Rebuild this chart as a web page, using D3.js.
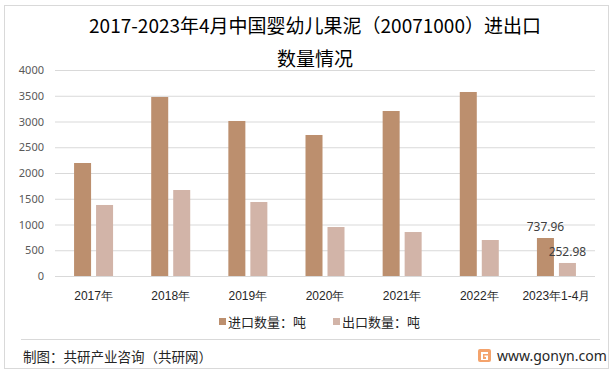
<!DOCTYPE html>
<html>
<head>
<meta charset="utf-8">
<script src="https://cdn.jsdelivr.net/npm/d3@7"></script>
<style>
  body { margin: 0; background: #fff; }
  svg { display: block; font-family: "Noto Sans CJK SC", "Noto Sans", sans-serif; }
</style>
</head>
<body>
<svg id="chart" width="614" height="376"></svg>
<script>
var categories = ["2017年", "2018年", "2019年", "2020年", "2021年", "2022年", "2023年1-4月"];
var importVals = [2194, 3476, 3010, 2738, 3204, 3573, 737.96];
var exportVals = [1379, 1670, 1437, 951, 854, 699, 252.98];
var seriesNames = ["进口数量：吨", "出口数量：吨"];
var yTicks = [0, 500, 1000, 1500, 2000, 2500, 3000, 3500, 4000];
var colors = ["#bc8f6e", "#d2b4a8"];

var svg = d3.select("#chart");

// outer border
svg.append("rect").attr("x", 4.5).attr("y", 5.5).attr("width", 604).attr("height", 363)
  .attr("fill", "none").attr("stroke", "#d9d9d9");

// title
var title = svg.append("text").attr("text-anchor", "middle").attr("fill", "#000")
  .attr("font-size", 19);
title.append("tspan").attr("x", 315).attr("y", 33).text("2017-2023年4月中国婴幼儿果泥（20071000）进出口");
title.append("tspan").attr("x", 315).attr("y", 66).text("数量情况");

var x0 = d3.scaleBand().domain(categories).range([55, 595]);
var x1 = d3.scaleBand().domain([0, 1])
  .range([(x0.bandwidth() - 39) / 2, (x0.bandwidth() + 39) / 2])
  .paddingInner(0.227);
var y = d3.scaleLinear().domain([0, 4000]).range([276, 70]);

// grid + y axis
var yAxis = svg.append("g").attr("transform", "translate(55,0)")
  .call(d3.axisLeft(y).tickValues(yTicks).tickFormat(d3.format("d")).tickSize(-540).tickPadding(11));
yAxis.select(".domain").remove();
yAxis.selectAll(".tick line").attr("stroke", "#d9d9d9");
yAxis.selectAll(".tick text").attr("fill", "#595959").attr("font-size", 11)
  .attr("font-family", "'Noto Sans', sans-serif");

// bars
var rows = categories.map(function (c, i) { return { cat: c, vals: [importVals[i], exportVals[i]] }; });
var groups = svg.append("g").selectAll("g").data(rows).enter().append("g")
  .attr("transform", function (d) { return "translate(" + x0(d.cat) + ",0)"; });
groups.selectAll("rect").data(function (d) { return d.vals; }).enter().append("rect")
  .attr("x", function (d, i) { return x1(i); })
  .attr("width", x1.bandwidth())
  .attr("y", function (d) { return y(d); })
  .attr("height", function (d) { return y(0) - y(d); })
  .attr("fill", function (d, i) { return colors[i]; });

// data labels for last category
var last = rows[rows.length - 1];
svg.append("g").selectAll("text").data(last.vals).enter().append("text")
  .attr("x", function (d, i) { return x0(last.cat) + x1(i) + x1.bandwidth() / 2; })
  .attr("y", function (d) { return y(d) - 7; })
  .attr("text-anchor", "middle").attr("font-size", 12).attr("fill", "#404040")
  .attr("font-family", "'Noto Sans', sans-serif")
  .text(function (d) { return d3.format(".2f")(d); });

// x labels
var xAxis = svg.append("g").attr("transform", "translate(0,276)")
  .call(d3.axisBottom(x0).tickSize(0).tickPadding(15));
xAxis.select(".domain").remove();
xAxis.selectAll(".tick text").attr("fill", "#262626").attr("font-size", 12)
  .attr("font-family", "inherit");

// legend
var legX = [219, 333];
var leg = svg.append("g");
seriesNames.forEach(function (n, i) {
  leg.append("rect").attr("x", legX[i]).attr("y", 318).attr("width", 7).attr("height", 7)
    .attr("fill", colors[i]);
  leg.append("text").attr("x", legX[i] + 9).attr("y", 327).attr("font-size", 13)
    .attr("fill", "#262626").text(n);
});

// footer
svg.append("line").attr("x1", 21).attr("x2", 600).attr("y1", 339.5).attr("y2", 339.5)
  .attr("stroke", "#d9d9d9");
svg.append("text").attr("x", 23).attr("y", 362).attr("font-size", 13.5).attr("fill", "#262626")
  .text("制图：共研产业咨询（共研网）");
var logo = svg.append("g").attr("transform", "translate(478,349)");
logo.append("rect").attr("width", 13).attr("height", 13).attr("rx", 2).attr("fill", "#f4a36c");
logo.append("path").attr("d", "M3,3 H10 V5 H5 V10 H8 V8 H6.5 V6.5 H10 V11 H3 Z").attr("fill", "#fff");
svg.append("text").attr("x", 497).attr("y", 361).attr("font-size", 14).attr("fill", "#262626")
  .attr("font-family", "'Noto Sans', sans-serif").text("www.gonyn.com");
</script>
</body>
</html>
